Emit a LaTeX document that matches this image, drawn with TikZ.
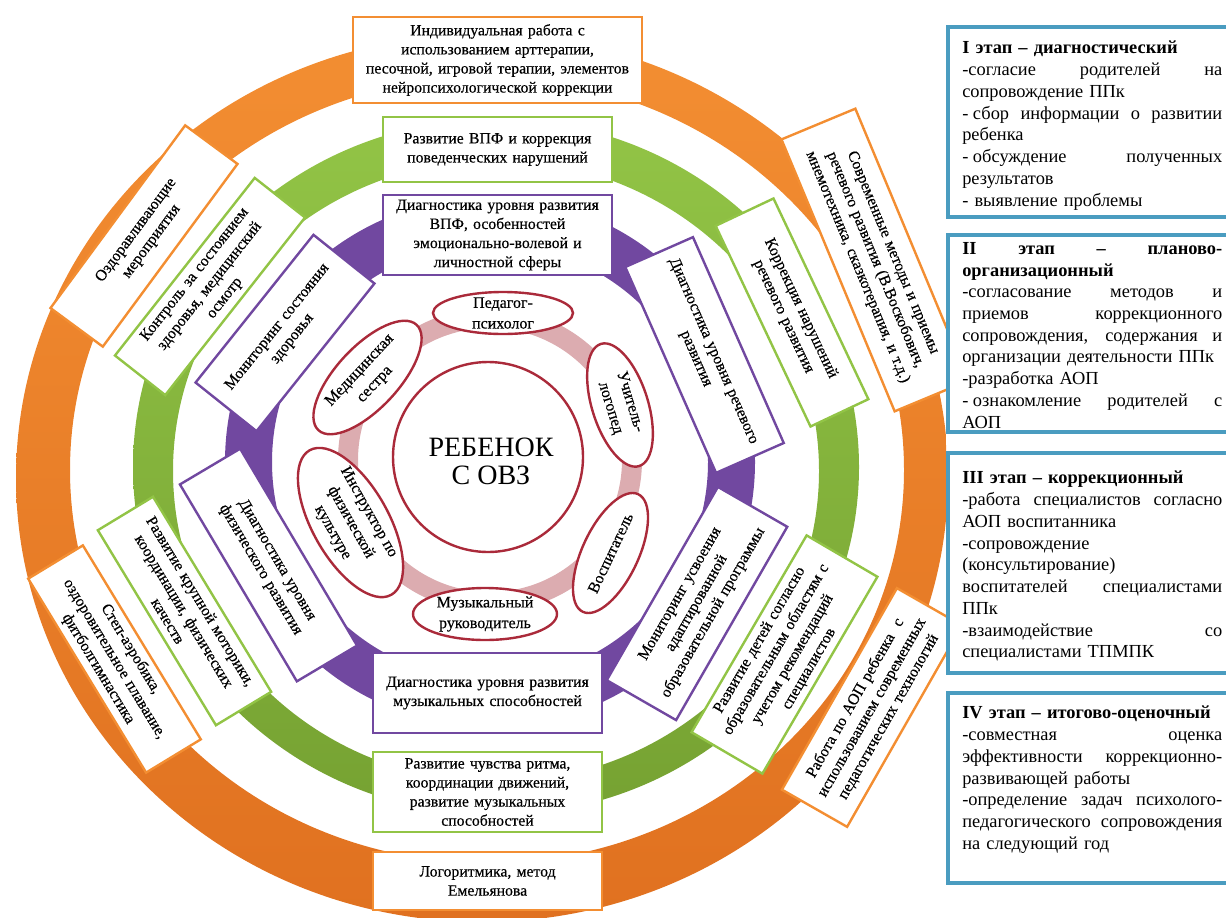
\documentclass[tikz,border=0pt]{standalone}
\usepackage{fontspec}
\setmainfont{Liberation Serif}
\newfontfamily\heavy[FakeBold=0.4]{Liberation Serif}
\usetikzlibrary{shapes.geometric}
\definecolor{orng}{RGB}{243,142,50}
\definecolor{orngdk}{RGB}{224,113,32}
\definecolor{grn}{RGB}{146,196,70}
\definecolor{grndk}{RGB}{118,162,50}
\definecolor{prp}{RGB}{113,72,160}
\definecolor{redb}{RGB}{170,42,58}
\definecolor{pinkr}{RGB}{220,172,176}
\definecolor{tealb}{RGB}{74,156,192}
\newcommand{\bxf}{\heavy\fontsize{11.8}{14.3}\selectfont}
\newcommand{\elf}{\heavy\fontsize{12}{15.5}\selectfont}
\newcommand{\stf}{\fontsize{13.8}{16.3}\selectfont}
\newcommand{\ctf}{\fontsize{21}{21}\selectfont}
\newlength{\pw}\setlength{\pw}{195pt}
\newcommand{\jl}[1]{\leavevmode\hbox to\pw{\spaceskip=0.25em plus 1fil\relax #1}}
\newcommand{\ds}{-\kern0.25em}
\begin{document}
\begin{tikzpicture}[x=0.75pt,y=-0.75pt,
  bx/.style={draw, line width=1.8pt, fill=white, inner sep=0pt, align=center, font=\bxf},
  obox/.style={bx, draw=orng},
  gbox/.style={bx, draw=grn},
  pbox/.style={bx, draw=prp},
  ell/.style={ellipse, draw=redb, line width=1.8pt, fill=white, inner sep=0pt},
  elltxt/.style={align=center, font=\elf, inner sep=0pt},
  stagebox/.style={draw=tealb, line width=2.3pt, fill=white},
  stagetxt/.style={anchor=north west, text width=195pt, align=left, font=\stf, inner sep=0pt}]
\useasboundingbox (0,0) rectangle (1226,917);
\begin{scope}
\clip (0,0) rectangle (946,917);
% rings
\shade[top color=orng, bottom color=orngdk, even odd rule]
  (482,478) ellipse [x radius=349.5pt, y radius=333pt]
  (487,470) ellipse [x radius=312.75pt, y radius=294.75pt];
\shade[top color=grn, bottom color=grndk, even odd rule]
  (496,467) ellipse [x radius=272.25pt, y radius=261pt]
  (496,471) ellipse [x radius=242.25pt, y radius=233.25pt];
\fill[prp, even odd rule] (490,462) circle [radius=198.75pt] (490,462) circle [radius=163.5pt];
% orange boxes
\node[obox, minimum width=216.75pt, minimum height=64.5pt, text width=210pt] (o1) at (497.5,60)
  {Индивидуальная работа с\\использованием арттерапии,\\песочной, игровой терапии, элементов\\нейропсихологической коррекции};
\node[obox, minimum width=220.9pt, minimum height=60pt, text width=214pt, rotate=-67.4] (o2) at (875,260)
  {Современные методы и приемы\\речевого развития (В.Воскобович,\\мнемотехника, сказкотерапия, и т.д.)};
\node[obox, minimum width=174pt, minimum height=56.25pt, text width=168pt, rotate=60.3] (o3) at (872,707.5)
  {Работа по АОП ребенка~ с\\использованием современных\\педагогических технологий};
\node[obox, minimum width=171.75pt, minimum height=43.5pt, text width=166pt] (o4) at (487.5,881)
  {Логоритмика, метод\\Емельянова};
\node[obox, minimum width=170.25pt, minimum height=48pt, text width=164pt, rotate=-58.7] (o5) at (114.5,659)
  {Степ-аэробика,\\оздоровительное плавание,\\фитболгимнастика};
\node[obox, minimum width=170.25pt, minimum height=48.75pt, text width=164pt, rotate=53.6] (o6) at (144,236)
  {Оздоравливающие\\мероприятия};
% green boxes
\node[gbox, minimum width=171.75pt, minimum height=48.75pt, text width=166pt] (g1) at (497.5,149.5)
  {Развитие ВПФ и коррекция\\поведенческих нарушений};
\node[gbox, minimum width=166.5pt, minimum height=48pt, text width=160pt, rotate=-64.7] (g2) at (792,312.5)
  {Коррекция нарушений\\речевого развития};
\node[gbox, minimum width=171pt, minimum height=61.5pt, text width=165pt, rotate=59.7] (g3) at (784.5,654.5)
  {Развитие детей согласно\\образовательным областям с\\учетом рекомендаций\\специалистов};
\node[gbox, minimum width=171.75pt, minimum height=60pt, text width=166pt] (g4) at (487.5,792)
  {Развитие чувства ритма,\\координации движений,\\развитие музыкальных\\способностей};
\node[gbox, minimum width=171pt, minimum height=48.4pt, text width=165pt, rotate=-58.8] (g5) at (184.5,611)
  {Развитие крупной моторики,\\координации, физических\\качеств};
\node[gbox, minimum width=169.5pt, minimum height=48pt, text width=163pt, rotate=51.8] (g6) at (210,286.5)
  {Контроль за состоянием\\здоровья, медицинский\\осмотр};
% purple boxes
\node[pbox, minimum width=171.75pt, minimum height=60pt, text width=166pt] (p1) at (497.5,235)
  {Диагностика уровня развития\\ВПФ, особенностей\\эмоционально-волевой и\\личностной сферы};
\node[pbox, minimum width=168.75pt, minimum height=55.5pt, text width=162pt, rotate=-66.2] (p2) at (704.5,355)
  {Диагностика уровня речевого\\развития};
\node[pbox, minimum width=167.25pt, minimum height=60pt, text width=161pt, rotate=60.1] (p3) at (697,603.5)
  {Мониторинг усвоения\\адаптированной\\образовательной программы};
\node[pbox, minimum width=171.75pt, minimum height=60pt, text width=166pt] (p4) at (487.5,693)
  {Диагностика уровня развития\\музыкальных способностей};
\node[pbox, minimum width=171.75pt, minimum height=52.5pt, text width=166pt, rotate=-59.3] (p5) at (268.5,565)
  {Диагностика уровня\\физического развития};
\node[pbox, minimum width=141.75pt, minimum height=58.5pt, text width=136pt, rotate=51.4] (p6) at (285,333)
  {Мониторинг состояния\\здоровья};
% pink ring
\draw[pinkr, line width=15pt] (490,460) circle [radius=106.5pt];
% ellipses
\node[ell, minimum width=105pt, minimum height=31.5pt] (e1) at (503,313) {};
\node[elltxt] (t1) at (503,313) {Педагог-\\психолог};
\node[ell, minimum width=96pt, minimum height=42pt, rotate=-72.6] (e2) at (620,405) {};
\node[elltxt, rotate=-72.6] (t2) at (620,405) {Учитель-\\логопед};
\node[ell, minimum width=97.5pt, minimum height=42pt, rotate=64.8] (e3) at (610.5,553) {};
\node[elltxt, rotate=64.8] (t3) at (610.5,553) {Воспитатель};
\node[ell, minimum width=108pt, minimum height=39pt] (e4) at (485,614) {};
\node[elltxt] (t4) at (485,614) {Музыкальный\\руководитель};
\node[ell, minimum width=124.5pt, minimum height=57pt, rotate=-60.5] (e5) at (350.5,522.5) {};
\node[elltxt, rotate=-60.5] (t5) at (350.5,522.5) {Инструктор по\\физической\\культуре};
\node[ell, minimum width=108pt, minimum height=46.5pt, rotate=47] (e6) at (367.5,377.5) {};
\node[elltxt, rotate=47] (t6) at (367.5,377.5) {Медицинская\\сестра};
% centre
\node[circle, draw=redb, line width=1.8pt, fill=white, minimum size=142.5pt, inner sep=0pt] (child) at (488,457) {};
\node[align=center, font=\ctf, inner sep=0pt] (childtxt) at (491,461.5) {РЕБЕНОК\\С ОВЗ};
\end{scope}
% stages panel
\draw[stagebox] (948,27) rectangle (1240,217);
\node[stagetxt] (s1) at (962,41) {\textbf{I этап – диагностический}\\
\jl{-согласие родителей на}\\
сопровождение ППк\\
\jl{\ds сбор информации о развитии}\\
ребенка\\
\jl{\ds обсуждение полученных}\\
результатов\\
- выявление проблемы};
\draw[stagebox] (948,235) rectangle (1240,432);
\node[stagetxt] (s2) at (962,242) {\jl{\textbf{II этап – планово-}}\\
\textbf{организационный}\\
\jl{-согласование методов и}\\
\jl{приемов коррекционного}\\
\jl{сопровождения, содержания и}\\
организации деятельности ППк\\
-разработка АОП\\
\jl{\ds ознакомление родителей с}\\
АОП};
\draw[stagebox] (948,453) rectangle (1240,673);
\node[stagetxt] (s3) at (962,471) {\textbf{III этап – коррекционный}\\
\jl{-работа специалистов согласно}\\
АОП воспитанника\\
-сопровождение\\
(консультирование)\\
\jl{воспитателей специалистами}\\
ППк\\
\jl{-взаимодействие со}\\
специалистами ТПМПК};
\draw[stagebox] (948,693) rectangle (1240,883);
\node[stagetxt] (s4) at (962,706) {\textbf{IV этап – итогово-оценочный}\\
\jl{-совместная оценка}\\
\jl{эффективности коррекционно-}\\
развивающей работы\\
\jl{-определение задач психолого-}\\
\jl{педагогического сопровождения}\\
на следующий год};
\end{tikzpicture}
\end{document}
